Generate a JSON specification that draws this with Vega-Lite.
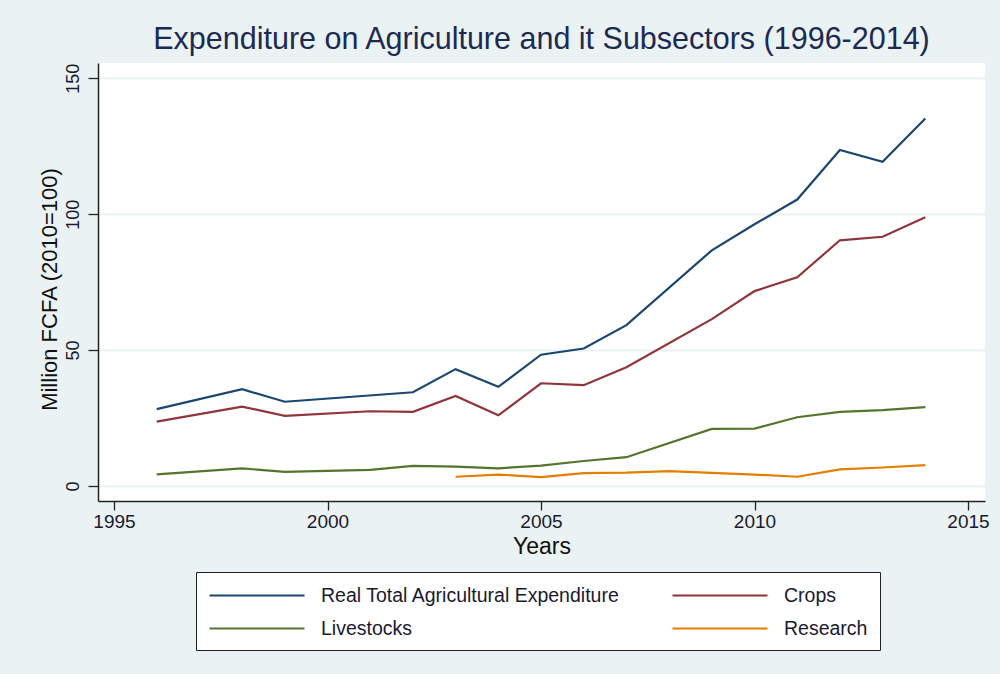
{
  "$schema": "https://vega.github.io/schema/vega-lite/v6.json",
  "width": 887,
  "height": 438,
  "autosize": {"type": "none"},
  "padding": {"left": 98, "top": 63, "right": 15, "bottom": 173},
  "background": "#EAF2F3",
  "title": {
    "text": "Expenditure on Agriculture and it Subsectors (1996-2014)",
    "font": "Liberation Sans",
    "fontSize": 30.5,
    "fontWeight": "normal",
    "color": "#1c2a52",
    "anchor": "middle",
    "baseline": "alphabetic",
    "offset": 11,
    "dy": 27
  },
  "config": {
    "view": {"fill": "white", "stroke": null},
    "font": "Liberation Sans"
  },
  "data": {
    "values": [
      {"series": "Real Total Agricultural Expenditure", "year": 1996, "value": 28.3},
      {"series": "Real Total Agricultural Expenditure", "year": 1998, "value": 35.6},
      {"series": "Real Total Agricultural Expenditure", "year": 1999, "value": 31.0},
      {"series": "Real Total Agricultural Expenditure", "year": 2002, "value": 34.5},
      {"series": "Real Total Agricultural Expenditure", "year": 2003, "value": 43.0},
      {"series": "Real Total Agricultural Expenditure", "year": 2004, "value": 36.5},
      {"series": "Real Total Agricultural Expenditure", "year": 2005, "value": 48.3},
      {"series": "Real Total Agricultural Expenditure", "year": 2006, "value": 50.6},
      {"series": "Real Total Agricultural Expenditure", "year": 2007, "value": 59.2},
      {"series": "Real Total Agricultural Expenditure", "year": 2009, "value": 86.7},
      {"series": "Real Total Agricultural Expenditure", "year": 2010, "value": 96.3},
      {"series": "Real Total Agricultural Expenditure", "year": 2011, "value": 105.4},
      {"series": "Real Total Agricultural Expenditure", "year": 2012, "value": 123.6},
      {"series": "Real Total Agricultural Expenditure", "year": 2013, "value": 119.3},
      {"series": "Real Total Agricultural Expenditure", "year": 2014, "value": 135.2},
      {"series": "Crops", "year": 1996, "value": 23.7},
      {"series": "Crops", "year": 1998, "value": 29.2},
      {"series": "Crops", "year": 1999, "value": 25.8},
      {"series": "Crops", "year": 2001, "value": 27.5},
      {"series": "Crops", "year": 2002, "value": 27.3},
      {"series": "Crops", "year": 2003, "value": 33.1},
      {"series": "Crops", "year": 2004, "value": 26.0},
      {"series": "Crops", "year": 2005, "value": 37.8},
      {"series": "Crops", "year": 2006, "value": 37.1},
      {"series": "Crops", "year": 2007, "value": 43.7},
      {"series": "Crops", "year": 2009, "value": 61.4},
      {"series": "Crops", "year": 2010, "value": 71.7},
      {"series": "Crops", "year": 2011, "value": 76.8},
      {"series": "Crops", "year": 2012, "value": 90.4},
      {"series": "Crops", "year": 2013, "value": 91.7},
      {"series": "Crops", "year": 2014, "value": 98.9},
      {"series": "Livestocks", "year": 1996, "value": 4.3},
      {"series": "Livestocks", "year": 1998, "value": 6.5},
      {"series": "Livestocks", "year": 1999, "value": 5.2},
      {"series": "Livestocks", "year": 2001, "value": 5.9},
      {"series": "Livestocks", "year": 2002, "value": 7.4},
      {"series": "Livestocks", "year": 2003, "value": 7.1},
      {"series": "Livestocks", "year": 2004, "value": 6.5},
      {"series": "Livestocks", "year": 2005, "value": 7.5},
      {"series": "Livestocks", "year": 2006, "value": 9.2},
      {"series": "Livestocks", "year": 2007, "value": 10.6},
      {"series": "Livestocks", "year": 2009, "value": 21.0},
      {"series": "Livestocks", "year": 2010, "value": 21.1},
      {"series": "Livestocks", "year": 2011, "value": 25.3},
      {"series": "Livestocks", "year": 2012, "value": 27.3},
      {"series": "Livestocks", "year": 2013, "value": 27.9},
      {"series": "Livestocks", "year": 2014, "value": 29.0},
      {"series": "Research", "year": 2003, "value": 3.4},
      {"series": "Research", "year": 2004, "value": 4.2},
      {"series": "Research", "year": 2005, "value": 3.3},
      {"series": "Research", "year": 2006, "value": 4.7},
      {"series": "Research", "year": 2007, "value": 4.9},
      {"series": "Research", "year": 2008, "value": 5.5},
      {"series": "Research", "year": 2009, "value": 4.8},
      {"series": "Research", "year": 2010, "value": 4.2},
      {"series": "Research", "year": 2011, "value": 3.4},
      {"series": "Research", "year": 2012, "value": 6.1},
      {"series": "Research", "year": 2013, "value": 6.8},
      {"series": "Research", "year": 2014, "value": 7.7}
    ]
  },
  "mark": {"type": "line", "strokeWidth": 2.2, "clip": true},
  "encoding": {
    "x": {
      "field": "year",
      "type": "quantitative",
      "scale": {"domain": [1994.625, 2015.398], "nice": false, "zero": false},
      "axis": {
        "title": "Years",
        "values": [1995, 2000, 2005, 2010, 2015],
        "format": "d",
        "grid": false,
        "domainColor": "#222222",
        "domainWidth": 1.5,
        "tickColor": "#222222",
        "tickWidth": 1.3,
        "tickSize": 9,
        "labelFontSize": 19,
        "labelColor": "#1a1a2e",
        "labelPadding": 2,
        "labelFont": "Liberation Sans",
        "titleFont": "Liberation Sans",
        "titleFontSize": 23,
        "titleFontWeight": "normal",
        "titleColor": "#111111",
        "titleBaseline": "alphabetic",
        "titleY": 52
      }
    },
    "y": {
      "field": "value",
      "type": "quantitative",
      "scale": {"domain": [-5.52, 155.63], "nice": false, "zero": false},
      "axis": {
        "title": "Million FCFA (2010=100)",
        "values": [0, 50, 100, 150],
        "grid": true,
        "gridColor": "#EAF2F3",
        "gridWidth": 2,
        "domainColor": "#222222",
        "domainWidth": 1.5,
        "tickColor": "#222222",
        "tickWidth": 1.3,
        "tickSize": 10,
        "labelAngle": -90,
        "labelAlign": "center",
        "labelBaseline": "alphabetic",
        "labelPadding": 10,
        "labelFontSize": 18,
        "labelColor": "#1a1a2e",
        "labelFont": "Liberation Sans",
        "titleFont": "Liberation Sans",
        "titleFontSize": 22,
        "titleFontWeight": "normal",
        "titleColor": "#111111",
        "titleBaseline": "alphabetic",
        "titleAngle": -90,
        "titleX": -42,
        "titleY": 226
      }
    },
    "color": {
      "field": "series",
      "type": "nominal",
      "sort": ["Real Total Agricultural Expenditure", "Crops", "Livestocks", "Research"],
      "scale": {
        "domain": ["Real Total Agricultural Expenditure", "Crops", "Livestocks", "Research"],
        "range": ["#1a476f", "#90353b", "#55752f", "#e37e00"]
      },
      "legend": {
        "title": null,
        "orient": "none",
        "legendX": 98,
        "legendY": 509,
        "direction": "horizontal",
        "columns": 2,
        "columnPadding": 47,
        "rowPadding": 12,
        "padding": 12,
        "fillColor": "white",
        "strokeColor": "#222222",
        "symbolType": "M-1,0H8.5",
        "symbolSize": 400,
        "symbolStrokeWidth": 2.2,
        "labelOffset": 90,
        "labelFontSize": 19.5,
        "labelFont": "Liberation Sans",
        "labelColor": "#1a1a2e",
        "labelLimit": 400
      }
    }
  }
}
